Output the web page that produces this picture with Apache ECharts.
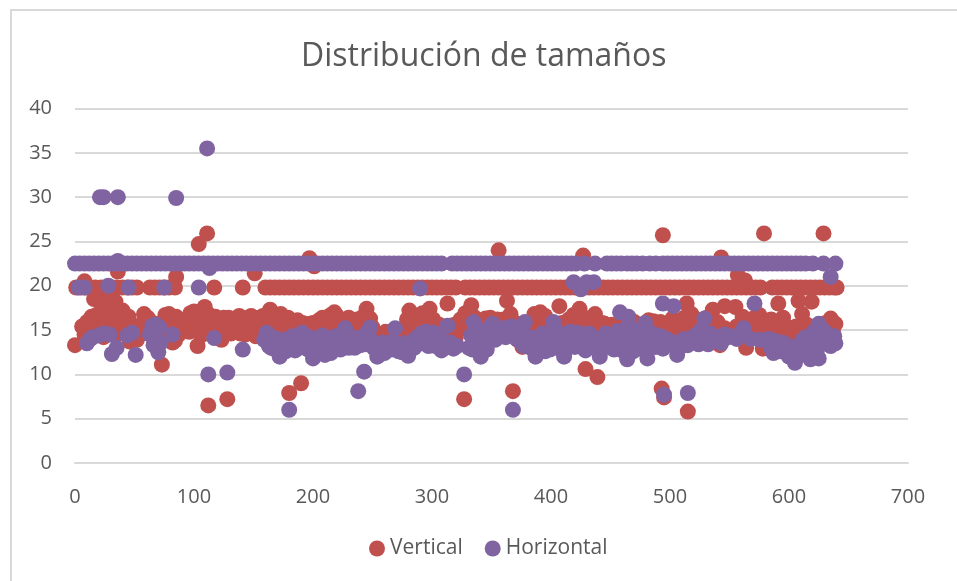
<!DOCTYPE html>
<html><head><meta charset="utf-8">
<style>html,body{margin:0;padding:0;background:#fff}#c{width:957px;height:581px}</style>
<script src="https://cdn.jsdelivr.net/npm/echarts@6/dist/echarts.min.js"></script>
</head><body><div id="c"></div>
<script>
const titleText = "Distribución de tamaños";
const xTicks = {min:0,max:700,step:100};
const yTicks = {min:0,max:40,step:5};

const verticalBandY = 19.8;
const verticalBandX = [1,5,9,13,17,22,26,31,35,40,44,48,52,63,67,71,75,79,84,117,141,160,164,168,172,176,180,184,188,192,196,200,204,208,212,216,220,224,228,232,236,240,244,248,252,256,260,264,268,272,276,280,284,288,292,296,300,304,308,312,316,320,328,332,336,340,344,348,352,356,360,364,368,372,376,380,384,388,392,396,400,404,408,412,416,420,424,428,432,436,440,444,448,452,456,460,464,468,472,476,480,484,488,492,496,500,504,508,512,516,520,524,528,532,536,540,544,548,552,556,560,564,568,572,576,586,590,594,598,602,606,610,614,618,622,626,630,634,638,640];
const verticalCloud = [[0,13.3],[8,20.5],[8,14.5],[10,15.9],[14,16.5],[16,18.5],[18,16.7],[20,19.2],[21,15.4],[24,14.2],[27,16.2],[29,18.7],[30,16.9],[33,15.2],[34,18.2],[36,21.6],[36,14.6],[40,17.2],[40,16.7],[43,15.8],[46,13.7],[49,14.5],[52,13.9],[54,15.5],[58,16.8],[61,16.4],[64,15],[67,14.3],[70,15.7],[73,11.1],[76,16.7],[79,16.8],[82,13.6],[84,13.8],[85,21],[85,16.5],[88,15.6],[91,14.9],[94,16.2],[97,16.9],[100,17.1],[103,13.2],[104,24.7],[105,15.4],[107,16.6],[109,17.6],[111,25.9],[112,6.5],[112,16.8],[115,15.3],[118,16.5],[120,14.2],[123,13.9],[126,15.5],[128,7.2],[129,16.4],[132,15.8],[135,14.9],[138,16.6],[140,15.9],[143,14.5],[146,16.4],[149,15.4],[151,21.4],[152,14.3],[155,16.4],[158,16.6],[161,15.1],[164,17.3],[167,16.4],[170,15.7],[173,16.8],[176,15.1],[179,16.4],[180,7.9],[182,14.7],[185,15.7],[188,14.5],[190,9],[191,15.8],[194,14.3],[197,23.1],[198,15.7],[201,22.2],[202,15],[205,16.1],[208,16.4],[212,14.9],[215,16.7],[218,17],[221,15.9],[224,14.8],[228,16.2],[232,15.1],[235,16.1],[239,15.8],[242,16.5],[245,17.4],[248,16.3],[251,14.4],[254,13.9],[258,13.3],[262,13.4],[266,14.2],[270,13.6],[274,14],[278,15.4],[281,17.2],[284,16.1],[287,15.2],[290,16.4],[293,15.7],[296,16.5],[298,17.4],[301,16.2],[304,15.1],[308,14.3],[313,18],[317,15],[320,14.2],[324,16.2],[327,7.2],[328,16.9],[332,16.4],[333,17.8],[333,15.7],[336,14.3],[339,13.1],[342,15.2],[345,16.3],[349,16.4],[353,15.9],[356,24],[356,14.8],[360,16.2],[363,18.3],[366,16.8],[368,8.1],[369,15.9],[372,13.9],[376,13.1],[380,13.4],[384,14.7],[388,15.8],[391,17],[395,16.6],[399,15.1],[403,14],[407,17.7],[411,14.9],[415,16.2],[419,16.7],[424,17.4],[427,23.4],[428,16.4],[429,10.6],[432,15.2],[437,16.8],[439,9.7],[441,14.4],[445,15.7],[449,15.2],[453,14],[457,14.6],[461,16],[466,15.4],[470,15.9],[474,14.3],[478,15.1],[482,16.1],[486,16],[490,15.2],[493,8.4],[494,25.7],[494,14.8],[495,7.4],[498,15.6],[502,16.3],[506,15],[510,16.1],[514,18],[515,5.8],[518,16.8],[521,15.8],[525,14.9],[530,13.6],[531,16.4],[536,17.3],[536,15.6],[540,15.9],[542,13.3],[543,23.2],[546,17.7],[546,15.2],[555,17.6],[556,15.4],[557,21.2],[561,16.5],[563,20.6],[564,13],[567,15.2],[571,16.4],[575,16.7],[578,12.9],[579,25.9],[582,16],[586,15.4],[591,18],[595,16.4],[599,15.1],[604,14.5],[608,18.3],[611,16.8],[615,15.6],[619,18.2],[622,15],[627,14.7],[629,25.9],[631,15.4],[635,16.3],[639,15.7]];
const verticalDense = [[6,15.4],[12,14.6],[16,15.2],[23,17.6],[26,18],[31,17.8],[35,17.2],[38,15.9],[41,14.7],[45,16.5],[48,15.2],[51,14.9],[56,14.6],[59,15.4],[63,16],[66,15.5],[72,15.2],[75,14.6],[78,15.4],[81,15],[87,14.5],[90,16.1],[93,15.3],[96,14.8],[99,15.8],[102,16.2],[106,14.4],[110,15.2],[113,14.6],[116,16.2],[119,15.4],[122,15.1],[125,16.4],[127,14.7],[131,14.6],[134,16.2],[137,15.3],[139,14.6],[142,15.6],[145,15.2],[148,16.6],[150,14.8],[153,15.7],[156,15.3],[159,14.6],[163,15.9],[166,15],[169,16.6],[172,15],[175,16.2],[178,15.5],[181,15.9],[184,15.1],[187,16.1],[190,15.2],[193,15.7],[196,15.1],[200,15.8],[203,15.4],[207,15.2],[210,16.2],[214,15.5],[217,15.8],[220,16.6],[223,15.6],[226,15.7],[230,16.4],[234,15.7],[237,16.2],[241,15.3],[244,16],[247,15],[250,15.3],[254,14.6],[257,14.2],[261,14.8],[264,14.3],[268,14.7],[272,15],[276,14.6],[279,16.2],[283,15],[286,16.6],[289,15.5],[292,16.9],[295,15.4],[299,15.6],[302,15],[306,15.6],[310,14.8],[315,15.5],[319,15.6],[322,15],[326,15.6],[330,15.1],[335,16.5],[338,15.4],[341,16.1],[344,15.1],[347,15.7],[351,15.2],[355,16.2],[358,15.6],[362,15.1],[365,15.5],[368,14.6],[371,15.2],[374,14.6],[378,14.5],[382,15.6],[386,16.8],[390,15.6],[393,15.2],[397,15.9],[401,14.7],[405,15.5],[409,15.8],[413,15.1],[417,15.6],[421,16.3],[426,15.5],[430,16.1],[434,15.8],[439,15.4],[443,15.8],[447,14.4],[451,15.6],[455,15.4],[459,15.1],[463,14.8],[468,14.6],[472,15.2],[476,15.5],[480,15.2],[484,14.9],[488,15.6],[492,15.9],[496,15.2],[500,15],[504,15.8],[508,15.2],[512,16.4],[516,15.1],[520,16.4],[523,15.4],[527,15.8],[533,15.3],[538,14.8],[544,14.9],[549,14.8],[553,14.7],[559,14.7],[562,14.6],[566,14.5],[570,15],[574,15.2],[577,14.8],[581,14.9],[585,16.2],[589,15.6],[593,15],[597,15.5],[601,14.8],[606,15.4],[610,15],[613,14.6],[617,14.9],[620,14.4],[624,14.3],[628,15.7],[633,15.1],[637,14.8]];

const horizontalBandY = 22.5;
const horizontalBandX = [0,4,8,12,16,20,24,28,32,36,40,44,48,52,56,60,64,68,72,76,80,84,88,92,96,100,104,108,112,116,120,124,128,132,136,140,144,148,152,156,160,164,168,172,176,180,184,188,192,196,200,204,208,212,216,220,224,228,232,236,240,244,248,252,256,260,264,268,272,276,280,284,288,292,296,300,304,308,317,321,325,329,333,337,341,345,349,353,357,361,365,369,373,377,381,385,389,393,397,401,405,409,413,417,421,428,437,447,451,455,459,464,468,472,477,483,488,494,498,502,506,510,514,518,522,526,530,534,538,542,546,550,554,558,562,566,570,574,578,582,586,590,594,598,602,606,610,614,620,629,639];
const horizontalCloud = [[3,19.8],[8,19.8],[28,20],[45,19.8],[75,19.8],[104,19.8],[290,19.7],[21,30],[24,30],[36,30],[85,29.9],[111,35.5],[113,22],[36,22.8],[419,20.4],[425,19.6],[430,20.4],[436,20.4],[494,18],[503,17.7],[571,18],[635,21],[112,10],[128,10.2],[180,6],[10,13.5],[13,14],[15,14.2],[20,14.4],[24,14.6],[29,14.5],[31,12.3],[35,13],[44,14.4],[48,14.7],[51,12.2],[63,14.5],[64,14.8],[65,15.5],[66,13.3],[67,14],[68,15.6],[70,12.5],[71,15.3],[72,13.6],[82,14.5],[117,14.1],[141,12.8],[161,14.7],[159,13.9],[162,13.6],[165,13],[167,12.9],[170,13.5],[172,12],[175,13.7],[178,14],[180,13],[183,14.3],[186,13.8],[188,13],[191,14.7],[194,14],[196,12.8],[199,13.6],[200,11.8],[203,12.5],[206,13.2],[208,14.4],[210,12.2],[213,13.7],[215,12.4],[218,13.6],[221,14],[224,13.1],[227,15.2],[229,14.3],[232,13.7],[235,13],[238,8.1],[240,13.3],[243,10.3],[245,14.6],[248,15.3],[250,13.7],[253,12.8],[254,12],[257,12.3],[260,12.4],[263,13],[266,12.8],[269,15.2],[272,12.6],[275,12.5],[278,12.4],[280,12.1],[283,13],[286,14],[289,14.3],[292,13.9],[295,14.8],[298,14.2],[301,14.7],[304,13.7],[308,12.7],[311,13.4],[313,15.5],[315,13.6],[318,12.9],[321,13.2],[327,10],[331,13],[334,12.8],[335,15.9],[337,15.3],[339,14.7],[341,12],[343,12.9],[346,12.8],[349,15.4],[351,15.7],[354,14.5],[357,15.1],[360,15.2],[364,15.3],[367,15.4],[368,6],[371,14],[374,13.8],[377,13.2],[378,15.9],[381,13.5],[384,12.9],[387,12],[390,13],[393,14.6],[396,13.3],[399,12.8],[402,15.9],[405,14.8],[408,14],[411,12],[414,13],[417,13.8],[420,13.1],[423,14.7],[426,13.5],[429,12.7],[432,14.6],[435,13.4],[438,13.2],[441,12],[444,14],[447,13.4],[450,14.2],[453,12.8],[456,14.9],[458,17],[460,13.1],[462,15],[464,11.7],[465,16.5],[468,13.5],[471,15],[474,12.9],[477,14.1],[479,15.8],[481,11.8],[483,13.7],[485,14.6],[488,13.1],[491,13.9],[494,12.9],[495,7.7],[497,14],[500,13.5],[503,13.6],[506,12.2],[509,13.1],[512,14],[515,13.3],[515,7.9],[518,13.8],[521,14.4],[524,13.4],[526,15],[529,16.3],[532,13.4],[534,14.6],[537,13.9],[540,14.2],[543,13.5],[546,14.5],[549,14.2],[552,14.3],[556,14],[562,15.2],[568,14],[576,13.9],[583,14],[588,13.8],[590,13.1],[592,12.6],[595,12.9],[598,12.4],[600,12],[603,13],[605,11.3],[608,12.5],[611,13.8],[614,14.2],[617,12],[618,11.7],[620,13.5],[621,14.8],[623,12.5],[625,11.8],[625,15.7],[628,15],[631,13.9],[633,14.4],[635,13.2],[638,14.3],[639,13.5]];
const horizontalDense = [[163,13.2],[168,14.1],[173,13],[177,12.6],[181,13.7],[185,12.7],[189,13.9],[192,13.2],[197,14.2],[201,13],[205,14],[209,13.4],[212,12.9],[216,13.1],[219,14.3],[223,12.8],[226,14],[230,13],[233,14.2],[237,13.7],[241,14.2],[244,13.4],[247,14.2],[251,13],[255,13.4],[259,13.6],[262,12.8],[267,13.7],[271,13.4],[274,13.1],[277,13.5],[282,13.6],[285,13],[288,13.4],[291,14.6],[294,13.5],[297,13.2],[300,13.8],[303,13.2],[306,14],[309,13.8],[333,14.4],[336,13.9],[340,13.6],[344,14.7],[347,13.9],[350,14.6],[353,13.9],[356,14.2],[359,14.7],[362,14.2],[366,14.8],[370,15.1],[375,14.6],[380,14.3],[383,14.1],[386,13.2],[389,14.2],[392,13.6],[395,12.6],[398,14.1],[401,14.7],[404,13.3],[407,12.9],[410,13.6],[413,14.3],[416,14.8],[419,14],[422,13.2],[425,14.4],[428,13.6],[431,13.5],[434,14.3],[437,14],[440,13.2],[443,12.9],[446,14.6],[449,13.1],[452,14],[455,13.2],[458,14.1],[461,12.6],[464,13.3],[466,14.3],[469,12.6],[472,14],[475,13.4],[478,12.9],[480,14.6],[482,12.9],[486,13.5],[489,14.4],[492,14.3],[585,13],[587,12.4],[594,13.6],[597,13.4],[602,12.2],[607,12],[610,12.6],[613,12.8],[616,13.2],[619,12.6],[622,13.6],[624,13],[627,13.8],[630,14.8]];

const FONT = '"Open Sans", sans-serif';
const verticalData = verticalBandX.map(x=>[x,verticalBandY]).concat(verticalCloud, verticalDense);
const horizontalData = horizontalBandX.map(x=>[x,horizontalBandY]).concat(horizontalCloud, horizontalDense);
const chart = echarts.init(document.getElementById('c'),null,{renderer:'canvas'});
chart.setOption({
  animation:false,
  backgroundColor:'#fff',
  title:{text:titleText,left:301,top:41,
    textStyle:{fontFamily:FONT,fontSize:32,fontWeight:'normal',color:'#595959'},padding:0},
  legend:{bottom:22,left:369,itemGap:22,itemWidth:16,itemHeight:16,icon:'circle',padding:0,
    data:['Vertical','Horizontal'],
    textStyle:{fontFamily:FONT,fontSize:21,color:'#595959'}},
  grid:{left:75,right:49,top:108.5,bottom:118,containLabel:false},
  graphic:[{type:'rect',silent:true,z:-1,shape:{x:11,y:10,width:960,height:600},
    style:{fill:'none',stroke:'#d9d9d9',lineWidth:2}}],
  xAxis:{type:'value',min:xTicks.min,max:xTicks.max,interval:xTicks.step,
    axisLine:{show:true,onZero:false,lineStyle:{color:'#d9d9d9',width:2}},axisTick:{show:false},splitLine:{show:false},
    axisLabel:{margin:24,fontFamily:FONT,fontSize:20,color:'#595959'}},
  yAxis:{type:'value',min:yTicks.min,max:yTicks.max,interval:yTicks.step,
    axisLine:{show:false},axisTick:{show:false},
    splitLine:{show:true,lineStyle:{color:'#d9d9d9',width:2}},
    axisLabel:{margin:23,fontFamily:FONT,fontSize:20,color:'#595959'}},
  series:[
    {name:'Vertical',type:'scatter',data:verticalData,symbolSize:16,itemStyle:{color:'#C0504D',opacity:1},clip:false},
    {name:'Horizontal',type:'scatter',data:horizontalData,symbolSize:16,itemStyle:{color:'#8064A2',opacity:1},clip:false}
  ]
});
</script></body></html>
